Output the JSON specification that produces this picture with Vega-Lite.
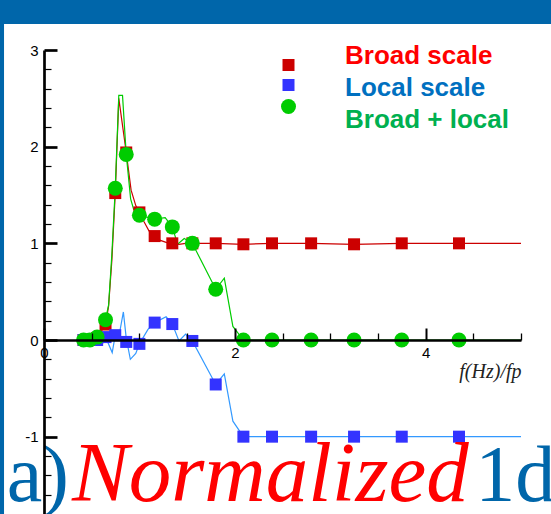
{
  "$schema": "https://vega.github.io/schema/vega-lite/v6.json",
  "width": 477,
  "height": 464,
  "autosize": {"type": "none"},
  "padding": {"left": 44, "top": 50, "right": 30, "bottom": 0},
  "background": "white",
  "config": {"view": {"stroke": null}, "axis": {"grid": false}},
  "datasets": {
    "lines": [
      {"series": "Broad scale", "f": 0.415, "v": 0},
      {"series": "Broad scale", "f": 0.481, "v": 0},
      {"series": "Broad scale", "f": 0.557, "v": 0.02},
      {"series": "Broad scale", "f": 0.645, "v": 0.16},
      {"series": "Broad scale", "f": 0.677, "v": 0.35},
      {"series": "Broad scale", "f": 0.711, "v": 0.82},
      {"series": "Broad scale", "f": 0.747, "v": 1.52},
      {"series": "Broad scale", "f": 0.784, "v": 2.5},
      {"series": "Broad scale", "f": 0.823, "v": 2.22},
      {"series": "Broad scale", "f": 0.862, "v": 1.94},
      {"series": "Broad scale", "f": 0.913, "v": 1.55},
      {"series": "Broad scale", "f": 0.962, "v": 1.39},
      {"series": "Broad scale", "f": 1.0, "v": 1.32},
      {"series": "Broad scale", "f": 1.05, "v": 1.22},
      {"series": "Broad scale", "f": 1.1, "v": 1.13},
      {"series": "Broad scale", "f": 1.16, "v": 1.075},
      {"series": "Broad scale", "f": 1.22, "v": 1.03},
      {"series": "Broad scale", "f": 1.28, "v": 1.01},
      {"series": "Broad scale", "f": 1.345, "v": 1.0},
      {"series": "Broad scale", "f": 1.415, "v": 0.99},
      {"series": "Broad scale", "f": 1.485, "v": 1.0},
      {"series": "Broad scale", "f": 1.555, "v": 1.0},
      {"series": "Broad scale", "f": 1.8, "v": 1.0},
      {"series": "Broad scale", "f": 2.09, "v": 0.99},
      {"series": "Broad scale", "f": 2.39, "v": 1.0},
      {"series": "Broad scale", "f": 2.8, "v": 1.0},
      {"series": "Broad scale", "f": 3.25, "v": 0.99},
      {"series": "Broad scale", "f": 3.75, "v": 1.0},
      {"series": "Broad scale", "f": 4.35, "v": 1.0},
      {"series": "Broad scale", "f": 5.0, "v": 1.0},
      {"series": "Local scale", "f": 0.415, "v": 0},
      {"series": "Local scale", "f": 0.481, "v": 0},
      {"series": "Local scale", "f": 0.557, "v": 0},
      {"series": "Local scale", "f": 0.645, "v": 0.03},
      {"series": "Local scale", "f": 0.715, "v": -0.13},
      {"series": "Local scale", "f": 0.747, "v": 0.05},
      {"series": "Local scale", "f": 0.784, "v": 0.03},
      {"series": "Local scale", "f": 0.832, "v": 0.29},
      {"series": "Local scale", "f": 0.862, "v": 0.02},
      {"series": "Local scale", "f": 0.905, "v": -0.2},
      {"series": "Local scale", "f": 0.962, "v": -0.14},
      {"series": "Local scale", "f": 1.0, "v": -0.04},
      {"series": "Local scale", "f": 1.09, "v": 0.11},
      {"series": "Local scale", "f": 1.16, "v": 0.18},
      {"series": "Local scale", "f": 1.28, "v": 0.24},
      {"series": "Local scale", "f": 1.345, "v": 0.165},
      {"series": "Local scale", "f": 1.415, "v": -0.01},
      {"series": "Local scale", "f": 1.485, "v": 0.06},
      {"series": "Local scale", "f": 1.555, "v": -0.01},
      {"series": "Local scale", "f": 1.8, "v": -0.46},
      {"series": "Local scale", "f": 1.89, "v": -0.35},
      {"series": "Local scale", "f": 1.98, "v": -0.84},
      {"series": "Local scale", "f": 2.09, "v": -1.0},
      {"series": "Local scale", "f": 2.39, "v": -1.0},
      {"series": "Local scale", "f": 2.8, "v": -1.0},
      {"series": "Local scale", "f": 3.25, "v": -1.0},
      {"series": "Local scale", "f": 3.75, "v": -1.0},
      {"series": "Local scale", "f": 4.35, "v": -1.0},
      {"series": "Local scale", "f": 5.0, "v": -1.0},
      {"series": "Broad + local", "f": 0.415, "v": 0},
      {"series": "Broad + local", "f": 0.481, "v": 0},
      {"series": "Broad + local", "f": 0.557, "v": 0.03},
      {"series": "Broad + local", "f": 0.645, "v": 0.21},
      {"series": "Broad + local", "f": 0.677, "v": 0.36},
      {"series": "Broad + local", "f": 0.711, "v": 0.88},
      {"series": "Broad + local", "f": 0.747, "v": 1.57},
      {"series": "Broad + local", "f": 0.784, "v": 2.53},
      {"series": "Broad + local", "f": 0.823, "v": 2.53},
      {"series": "Broad + local", "f": 0.862, "v": 1.92},
      {"series": "Broad + local", "f": 0.908, "v": 1.46},
      {"series": "Broad + local", "f": 0.94, "v": 1.35},
      {"series": "Broad + local", "f": 1.0, "v": 1.29},
      {"series": "Broad + local", "f": 1.16, "v": 1.25},
      {"series": "Broad + local", "f": 1.27, "v": 1.265},
      {"series": "Broad + local", "f": 1.345, "v": 1.17},
      {"series": "Broad + local", "f": 1.4, "v": 0.99},
      {"series": "Broad + local", "f": 1.47, "v": 1.05},
      {"series": "Broad + local", "f": 1.555, "v": 1.0},
      {"series": "Broad + local", "f": 1.8, "v": 0.525},
      {"series": "Broad + local", "f": 1.89, "v": 0.64},
      {"series": "Broad + local", "f": 1.98, "v": 0.14},
      {"series": "Broad + local", "f": 2.09, "v": 0},
      {"series": "Broad + local", "f": 2.39, "v": 0},
      {"series": "Broad + local", "f": 2.8, "v": 0},
      {"series": "Broad + local", "f": 3.25, "v": 0},
      {"series": "Broad + local", "f": 3.75, "v": 0},
      {"series": "Broad + local", "f": 4.35, "v": 0},
      {"series": "Broad + local", "f": 5.0, "v": 0}
    ],
    "markers": [
      {"series": "Broad scale", "f": 0.415, "v": 0},
      {"series": "Broad scale", "f": 0.481, "v": 0},
      {"series": "Broad scale", "f": 0.557, "v": 0.02},
      {"series": "Broad scale", "f": 0.645, "v": 0.16},
      {"series": "Broad scale", "f": 0.747, "v": 1.52},
      {"series": "Broad scale", "f": 0.862, "v": 1.94},
      {"series": "Broad scale", "f": 1.0, "v": 1.32},
      {"series": "Broad scale", "f": 1.16, "v": 1.075},
      {"series": "Broad scale", "f": 1.345, "v": 1.0},
      {"series": "Broad scale", "f": 1.555, "v": 1.0},
      {"series": "Broad scale", "f": 1.8, "v": 1.0},
      {"series": "Broad scale", "f": 2.09, "v": 0.99},
      {"series": "Broad scale", "f": 2.39, "v": 1.0},
      {"series": "Broad scale", "f": 2.8, "v": 1.0},
      {"series": "Broad scale", "f": 3.25, "v": 0.99},
      {"series": "Broad scale", "f": 3.75, "v": 1.0},
      {"series": "Broad scale", "f": 4.35, "v": 1.0},
      {"series": "Local scale", "f": 0.415, "v": 0},
      {"series": "Local scale", "f": 0.481, "v": 0},
      {"series": "Local scale", "f": 0.557, "v": 0},
      {"series": "Local scale", "f": 0.645, "v": 0.03},
      {"series": "Local scale", "f": 0.747, "v": 0.05},
      {"series": "Local scale", "f": 0.862, "v": -0.02},
      {"series": "Local scale", "f": 1.0, "v": -0.04},
      {"series": "Local scale", "f": 1.16, "v": 0.18},
      {"series": "Local scale", "f": 1.345, "v": 0.165},
      {"series": "Local scale", "f": 1.555, "v": -0.01},
      {"series": "Local scale", "f": 1.8, "v": -0.46},
      {"series": "Local scale", "f": 2.09, "v": -1.0},
      {"series": "Local scale", "f": 2.39, "v": -1.0},
      {"series": "Local scale", "f": 2.8, "v": -1.0},
      {"series": "Local scale", "f": 3.25, "v": -1.0},
      {"series": "Local scale", "f": 3.75, "v": -1.0},
      {"series": "Local scale", "f": 4.35, "v": -1.0},
      {"series": "Broad + local", "f": 0.415, "v": 0},
      {"series": "Broad + local", "f": 0.481, "v": 0},
      {"series": "Broad + local", "f": 0.557, "v": 0.03},
      {"series": "Broad + local", "f": 0.645, "v": 0.21},
      {"series": "Broad + local", "f": 0.747, "v": 1.57},
      {"series": "Broad + local", "f": 0.862, "v": 1.92},
      {"series": "Broad + local", "f": 1.0, "v": 1.29},
      {"series": "Broad + local", "f": 1.16, "v": 1.25},
      {"series": "Broad + local", "f": 1.345, "v": 1.17},
      {"series": "Broad + local", "f": 1.555, "v": 1.0},
      {"series": "Broad + local", "f": 1.8, "v": 0.525},
      {"series": "Broad + local", "f": 2.09, "v": 0},
      {"series": "Broad + local", "f": 2.39, "v": 0},
      {"series": "Broad + local", "f": 2.8, "v": 0},
      {"series": "Broad + local", "f": 3.25, "v": 0},
      {"series": "Broad + local", "f": 3.75, "v": 0},
      {"series": "Broad + local", "f": 4.35, "v": 0}
    ]
  },
  "layer": [
    {
      "data": {"values": [{}]},
      "mark": {"type": "rect", "color": "#0066aa"},
      "encoding": {
        "x": {"datum": -0.5},
        "x2": {"datum": 5.4},
        "y": {"datum": 3.27},
        "y2": {"datum": 3.6}
      }
    },
    {
      "data": {"values": [{}]},
      "mark": {"type": "rect", "color": "#0066aa"},
      "encoding": {
        "x": {"datum": -0.5},
        "x2": {"datum": -0.419},
        "y": {"datum": 3.6},
        "y2": {"datum": -1.9}
      }
    },
    {
      "data": {"name": "lines"},
      "mark": {"type": "line", "strokeWidth": 1.2},
      "encoding": {
        "x": {
          "field": "f",
          "type": "quantitative",
          "scale": {"domain": [0, 5], "nice": false, "zero": false},
          "axis": {
            "orient": "bottom",
            "offset": -174,
            "zindex": 1,
            "values": [0, 0.5, 1, 1.5, 2, 2.5, 3, 3.5, 4, 4.5, 5],
            "tickCount": 100,
            "labelExpr": "datum.value % 2 === 0 ? toString(datum.value) : ''",
            "tickSize": {"condition": {"test": "datum.value % 2 === 0", "value": -12}, "value": -7},
            "tickWidth": {"condition": {"test": "datum.value % 2 === 0", "value": 2}, "value": 1.3},
            "tickColor": "black",
            "domainColor": "black",
            "domainWidth": 2.7,
            "labelFont": "Liberation Sans",
            "labelFontSize": 15,
            "labelColor": "black",
            "labelPadding": 17,
            "labelFlush": false,
            "labelOverlap": false,
            "title": "f(Hz)/fp",
            "titleFont": "Liberation Serif",
            "titleFontStyle": "italic",
            "titleFontWeight": "normal",
            "titleFontSize": 20,
            "titleColor": "#222222",
            "titleAlign": "right",
            "titleBaseline": "alphabetic",
            "titleX": 477,
            "titleY": 37
          }
        },
        "y": {
          "field": "v",
          "type": "quantitative",
          "scale": {"domain": [-1.8, 3], "nice": false, "zero": false},
          "axis": {
            "zindex": 1,
            "values": [-1.8, -1.6, -1.4, -1.2, -1, -0.8, -0.6, -0.4, -0.2, 0, 0.2, 0.4, 0.6, 0.8, 1, 1.2, 1.4, 1.6, 1.8, 2, 2.2, 2.4, 2.6, 2.8, 3],
            "tickCount": 100,
            "labelExpr": "abs(datum.value - round(datum.value)) < 0.01 ? toString(round(datum.value)) : ''",
            "tickSize": {"condition": {"test": "abs(datum.value - round(datum.value)) < 0.01", "value": -13}, "value": -7},
            "tickWidth": {"condition": {"test": "abs(datum.value - round(datum.value)) < 0.01", "value": 2.7}, "value": 1.2},
            "tickColor": "black",
            "domainColor": "black",
            "domainWidth": 2.7,
            "labelFont": "Liberation Sans",
            "labelFontSize": 15,
            "labelColor": "black",
            "labelPadding": 19,
            "labelFlush": false,
            "labelOverlap": false,
            "title": null
          }
        },
        "stroke": {
          "field": "series",
          "type": "nominal",
          "sort": ["Broad scale", "Local scale", "Broad + local"],
          "scale": {"range": ["#cc0000", "#3399ff", "#00cc00"]},
          "legend": {
            "orient": "none",
            "legendX": 275,
            "legendY": -7,
            "title": null,
            "padding": 0,
            "rowPadding": 6,
            "symbolType": "circle",
            "symbolSize": 0,
            "symbolOpacity": 0,
            "symbolStrokeWidth": 0,
            "labelOffset": 0,
            "labelFont": "Liberation Sans",
            "labelFontSize": 26,
            "labelFontWeight": "bold",
            "labelLimit": 400,
            "encode": {
              "labels": {
                "update": {
                  "fill": {"signal": "datum.value === 'Broad scale' ? '#ff0000' : datum.value === 'Local scale' ? '#0070c0' : '#00b050'"}
                }
              }
            }
          }
        }
      }
    },
    {
      "data": {"name": "markers"},
      "mark": {"type": "point", "filled": true, "opacity": 1, "strokeWidth": 0},
      "encoding": {
        "x": {"field": "f", "type": "quantitative"},
        "y": {"field": "v", "type": "quantitative"},
        "fill": {
          "field": "series",
          "type": "nominal",
          "scale": {"domain": ["Broad scale", "Local scale", "Broad + local"], "range": ["#cc0000", "#3333ff", "#00cc00"]},
          "legend": {
            "orient": "none",
            "legendX": 237,
            "legendY": 9,
            "title": null,
            "padding": 0,
            "rowPadding": 8,
            "labelExpr": "''",
            "labelFontSize": 1,
            "labelOffset": 0,
            "symbolOffset": 0,
            "symbolStrokeWidth": 0,
            "encode": {
              "symbols": {
                "update": {
                  "strokeWidth": {"value": 0},
                  "opacity": {"value": 1}
                }
              }
            }
          }
        },
        "shape": {
          "field": "series",
          "type": "nominal",
          "scale": {"domain": ["Broad scale", "Local scale", "Broad + local"], "range": ["square", "square", "circle"]}
        },
        "size": {
          "field": "series",
          "type": "nominal",
          "scale": {"type": "ordinal", "domain": ["Broad scale", "Local scale", "Broad + local"], "range": [144, 144, 225]}
        }
      }
    },
    {
      "data": {"values": [{}]},
      "mark": {"type": "text", "font": "Liberation Serif", "fontSize": 80, "color": "#0066aa", "align": "left", "baseline": "alphabetic"},
      "encoding": {"x": {"datum": -0.39}, "y": {"datum": -1.665}, "text": {"value": "a)"}}
    },
    {
      "data": {"values": [{}]},
      "mark": {"type": "text", "font": "Liberation Serif", "fontSize": 85, "fontStyle": "italic", "color": "#ff0000", "align": "left", "baseline": "alphabetic"},
      "encoding": {"x": {"datum": 0.294}, "y": {"datum": -1.665}, "text": {"value": "Normalized"}}
    },
    {
      "data": {"values": [{}]},
      "mark": {"type": "text", "font": "Liberation Serif", "fontSize": 80, "color": "#0066aa", "align": "left", "baseline": "alphabetic"},
      "encoding": {"x": {"datum": 4.52}, "y": {"datum": -1.665}, "text": {"value": "1d"}}
    }
  ]
}
